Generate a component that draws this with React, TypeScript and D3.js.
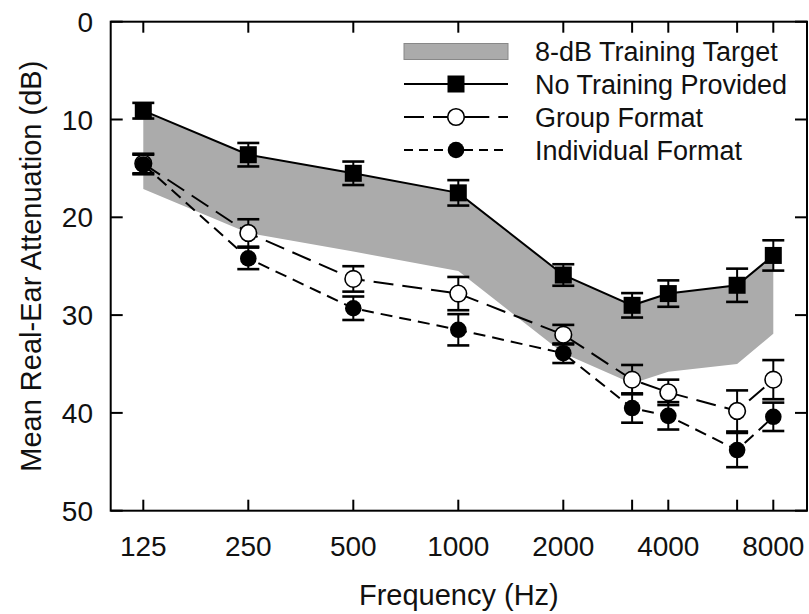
import React from "react";
import * as d3 from "d3";

const freqs = [125, 250, 500, 1000, 2000, 3150, 4000, 6300, 8000];
const tickFreqs = [125, 250, 500, 1000, 2000, 3150, 4000, 6300, 8000];
const tickLabels = ["125", "250", "500", "1000", "2000", "", "4000", "", "8000"];
const yTicks = [0, 10, 20, 30, 40, 50];

const noTraining = [9.1, 13.6, 15.5, 17.5, 25.9, 29.0, 27.8, 26.95, 23.9];
const noTrainingErr = [0.8, 1.2, 1.2, 1.3, 1.1, 1.25, 1.35, 1.7, 1.55];
const groupFormat = [14.5, 21.6, 26.3, 27.8, 32.0, 36.6, 37.9, 39.8, 36.6];
const groupErr = [1.0, 1.4, 1.3, 1.7, 1.0, 1.5, 1.3, 2.1, 2.0];
const individualFormat = [14.6, 24.2, 29.3, 31.5, 33.9, 39.5, 40.3, 43.8, 40.4];
const individualErr = [1.0, 1.1, 1.2, 1.6, 1.0, 1.5, 1.4, 1.75, 1.45];
const targetUpper = [9.1, 13.6, 15.5, 17.5, 25.9, 29.0, 27.8, 26.95, 23.9];
const targetLower = [17.1, 21.6, 23.5, 25.5, 33.9, 37.0, 35.8, 35.0, 31.9];

const legendLabels = ["8-dB Training Target", "No Training Provided", "Group Format", "Individual Format"];

const W = 809;
const H = 614;
const frameL = 110.7;
const frameR = 807;
const frameT = 21.7;
const frameB = 510.7;
const FONT = "'Liberation Sans', Arial, Helvetica, sans-serif";

export default function App() {
  const x = d3.scaleLog().domain([125, 8000]).range([143.3, 773.3]);
  const y = d3.scaleLinear().domain([0, 50]).range([frameT, frameB]);

  const band = d3
    .area<number>()
    .x((_, i) => x(freqs[i]))
    .y0((_, i) => y(targetLower[i]))
    .y1((_, i) => y(targetUpper[i]));

  const line = d3
    .line<number>()
    .x((_, i) => x(freqs[i]))
    .y((d) => y(d));

  const series = [
    { vals: noTraining, err: noTrainingErr, dash: "none", marker: "square" },
    { vals: groupFormat, err: groupErr, dash: "20,9", marker: "open" },
    { vals: individualFormat, err: individualErr, dash: "12,7", marker: "filled" },
  ];

  const capW = 11;
  const sq = 8.5;
  const r = 8.3;

  const marker = (kind: string, cx: number, cy: number, key: string) => {
    if (kind === "square")
      return <rect key={key} x={cx - sq} y={cy - sq} width={2 * sq} height={2 * sq} fill="#000" />;
    if (kind === "open")
      return <circle key={key} cx={cx} cy={cy} r={r} fill="#fff" stroke="#000" strokeWidth={1.6} />;
    return <circle key={key} cx={cx} cy={cy} r={r} fill="#000" />;
  };

  const legX0 = 404;
  const legX1 = 508;
  const legMid = 456;
  const legRows = [51.5, 84, 117, 150];
  const legTextX = 535;

  return (
    <svg width={W} height={H} style={{ display: "block", position: "absolute", left: 0, top: 0, background: "#fff" }}>
      <rect x={0} y={0} width={W} height={H} fill="#fff" />
      <path d={band(freqs) || ""} fill="#ababab" stroke="none" />

      {series.map((s, si) => (
        <path
          key={"l" + si}
          d={line(s.vals) || ""}
          fill="none"
          stroke="#000"
          strokeWidth={2}
          strokeDasharray={s.dash}
        />
      ))}

      {series.map((s, si) =>
        s.vals.map((v, i) => {
          const cx = x(freqs[i]);
          const y0 = y(v - s.err[i]);
          const y1 = y(v + s.err[i]);
          return (
            <g key={"e" + si + "-" + i} stroke="#000">
              <line x1={cx} x2={cx} y1={y0} y2={y1} strokeWidth={2} />
              <line x1={cx - capW} x2={cx + capW} y1={y0} y2={y0} strokeWidth={2.6} />
              <line x1={cx - capW} x2={cx + capW} y1={y1} y2={y1} strokeWidth={2.6} />
            </g>
          );
        })
      )}

      {series.map((s, si) => s.vals.map((v, i) => marker(s.marker, x(freqs[i]), y(v), "m" + si + "-" + i)))}

      <rect x={frameL} y={frameT} width={frameR - frameL} height={frameB - frameT} fill="none" stroke="#000" strokeWidth={2} />

      {tickFreqs.map((f, i) => (
        <g key={"xt" + i}>
          <line x1={x(f)} x2={x(f)} y1={frameB} y2={frameB - 11} stroke="#000" strokeWidth={2} />
          <line x1={x(f)} x2={x(f)} y1={frameT} y2={frameT + 11} stroke="#000" strokeWidth={2} />
          {tickLabels[i] && (
            <text x={x(f)} y={556} textAnchor="middle" fontFamily={FONT} fontSize={28} fill="#111">
              {tickLabels[i]}
            </text>
          )}
        </g>
      ))}

      {yTicks.map((t) => (
        <g key={"yt" + t}>
          <line x1={frameL} x2={frameL + 12} y1={y(t)} y2={y(t)} stroke="#000" strokeWidth={2} />
          <line x1={frameR} x2={frameR - 12} y1={y(t)} y2={y(t)} stroke="#000" strokeWidth={2} />
          <text x={93} y={y(t)} dy="0.36em" textAnchor="end" fontFamily={FONT} fontSize={28} fill="#111">
            {t}
          </text>
        </g>
      ))}

      <text x={(frameL + frameR) / 2} y={605} textAnchor="middle" fontFamily={FONT} fontSize={29} fill="#111">
        Frequency (Hz)
      </text>
      <text
        transform={`translate(41, ${(frameT + frameB) / 2}) rotate(-90)`}
        textAnchor="middle"
        fontFamily={FONT}
        fontSize={29}
        fill="#111"
      >
        Mean Real-Ear Attenuation (dB)
      </text>

      <rect x={legX0} y={legRows[0] - 8} width={legX1 - legX0} height={16} fill="#ababab" stroke="#888" strokeWidth={1} />
      <line x1={legX0} x2={legX1} y1={legRows[1]} y2={legRows[1]} stroke="#000" strokeWidth={2} />
      {marker("square", legMid, legRows[1], "lg1")}
      <line x1={legX0} x2={legMid - r - 5} y1={legRows[2]} y2={legRows[2]} stroke="#000" strokeWidth={2} strokeDasharray="20,9" />
      <line x1={legMid + r + 5} x2={legX1} y1={legRows[2]} y2={legRows[2]} stroke="#000" strokeWidth={2} strokeDasharray="20,9" />
      <line x1={legMid - r - 7} x2={legMid - r} y1={legRows[2]} y2={legRows[2]} stroke="#000" strokeWidth={2} />
      <line x1={legMid + r} x2={legMid + r + 7} y1={legRows[2]} y2={legRows[2]} stroke="#000" strokeWidth={2} />
      {marker("open", legMid, legRows[2], "lg2")}
      <line x1={legX0} x2={legX1} y1={legRows[3]} y2={legRows[3]} stroke="#000" strokeWidth={2} strokeDasharray="9,6" />
      {marker("filled", legMid, legRows[3], "lg3")}
      {legendLabels.map((lab, i) => (
        <text key={"lt" + i} x={legTextX} y={legRows[i]} dy="0.36em" fontFamily={FONT} fontSize={27} fill="#111">
          {lab}
        </text>
      ))}
    </svg>
  );
}
